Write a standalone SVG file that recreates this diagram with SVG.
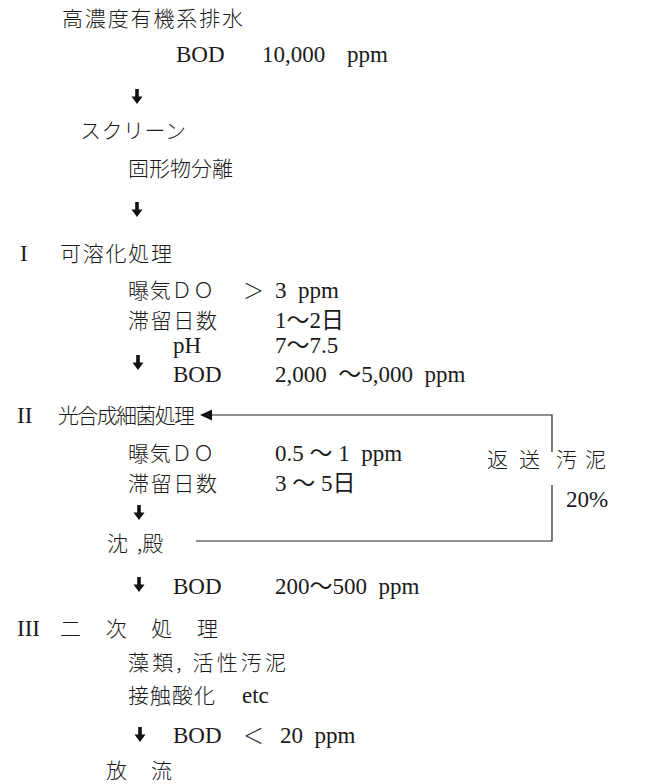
<svg xmlns="http://www.w3.org/2000/svg" width="646" height="784" viewBox="0 0 646 784">
<style>
text{font-family:"Liberation Serif","Noto Sans CJK JP",serif;font-size:21px;fill:#1a1a1a;white-space:pre}
.l{font-size:23px}
.c{font-family:"Noto Sans CJK JP","Liberation Serif",sans-serif;font-weight:300}
.line{fill:none;stroke:#222;stroke-width:1.2}
</style>
<defs>
<path id="dn" d="M-1.8,0 H1.8 V7.5 H5.5 L0,15 L-5.5,7.5 H-1.8 Z" fill="#111"/>
</defs>
<rect width="646" height="784" fill="#fff"/>

<g id="source">
<text class="c" x="62" y="26" textLength="181" lengthAdjust="spacing">高濃度有機系排水</text>
<text class="l" x="176" y="62">BOD</text>
<text class="l" x="262" y="62">10,000</text>
<text class="l" x="347" y="62">ppm</text>
</g>

<g id="screen">
<text class="c" x="80" y="138" textLength="106" lengthAdjust="spacing">スクリーン</text>
<text class="c" x="128" y="176" textLength="105" lengthAdjust="spacing">固形物分離</text>
</g>

<g id="stage1">
<text class="l" x="20" y="261">I</text>
<text class="c" x="60" y="261" textLength="112" lengthAdjust="spacing">可溶化処理</text>
<text class="c" x="128" y="298" textLength="86" lengthAdjust="spacing">曝気ＤＯ</text>
<text class="c" x="243" y="298">＞</text>
<text class="l" x="275" y="298">3  ppm</text>
<text class="c" x="128" y="328" textLength="89" lengthAdjust="spacing">滞留日数</text>
<text class="l" x="275" y="328">1～2日</text>
<text class="l" x="173" y="353">pH</text>
<text class="l" x="275" y="353">7～7.5</text>
<text class="l" x="173" y="382">BOD</text>
<text class="l" x="275" y="382">2,000  ～5,000  ppm</text>
</g>

<g id="stage2">
<text class="l" x="17" y="423">II</text>
<text class="c" x="58" y="423" textLength="137" lengthAdjust="spacing">光合成細菌処理</text>
<text class="c" x="128" y="461" textLength="86" lengthAdjust="spacing">曝気ＤＯ</text>
<text class="l" x="275" y="461">0.5 ～ 1  ppm</text>
<text class="c" x="128" y="491" textLength="89" lengthAdjust="spacing">滞留日数</text>
<text class="l" x="275" y="491">3 ～ 5日</text>
</g>

<g id="sediment">
<text class="c" x="107" y="551">沈</text>
<text class="c" x="137" y="551">,殿</text>
</g>

<g id="return-label">
<text class="c" x="487" y="467">返</text>
<text class="c" x="519" y="467">送</text>
<text class="c" x="556" y="467">汚</text>
<text class="c" x="585" y="467">泥</text>
<text class="l" x="566" y="507">20%</text>
</g>

<g id="bod-mid">
<text class="l" x="173" y="594">BOD</text>
<text class="l" x="275" y="594">200～500  ppm</text>
</g>

<g id="stage3">
<text class="l" x="17" y="636">III</text>
<text class="c" x="60" y="636" textLength="158" lengthAdjust="spacing">二 次 処 理</text>
<text class="c" x="128" y="670" textLength="158" lengthAdjust="spacing">藻類, 活性汚泥</text>
<text class="c" x="128" y="703" textLength="87" lengthAdjust="spacing">接触酸化</text>
<text class="l" x="242" y="703">etc</text>
</g>

<g id="bod-final">
<text class="l" x="173" y="743">BOD</text>
<text class="c" x="243" y="743">＜</text>
<text class="l" x="280" y="743">20  ppm</text>
</g>

<g id="discharge">
<text class="c" x="106" y="778" textLength="66" lengthAdjust="spacing">放 流</text>
</g>

<g id="connectors">
<use href="#dn" x="137" y="89"/>
<use href="#dn" x="137" y="202"/>
<use href="#dn" x="138" y="355"/>
<use href="#dn" x="139" y="505"/>
<use href="#dn" x="139" y="577"/>
<use href="#dn" x="140" y="727"/>
<path class="line" d="M196,541 H552 V485"/>
<path class="line" d="M552,452 V415 H210"/>
<path d="M200,415 L212,409.5 L212,420.5 Z" fill="#111"/>
</g>
</svg>
